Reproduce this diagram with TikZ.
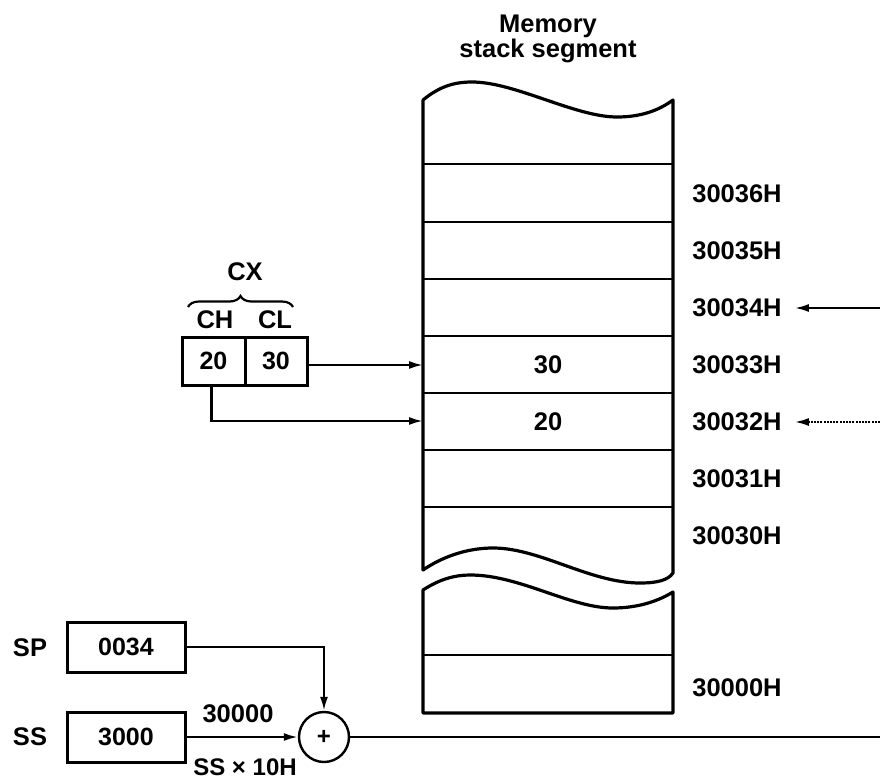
\documentclass[tikz,border=0pt]{standalone}
\usepackage{fontspec}
\setmainfont{Liberation Sans}
\usetikzlibrary{arrows.meta,decorations.pathreplacing}
\begin{document}
\begin{tikzpicture}[x=1pt,y=-1pt,
  txt/.style={font=\fontsize{25.5}{25.5}\selectfont\bfseries, inner sep=0pt},
  box/.style={draw, line width=3pt, inner sep=0pt, font=\fontsize{25}{25}\selectfont\bfseries},
  arr/.style={line width=2.2pt, -{Latex[length=14pt,width=8pt]}},
  wire/.style={line width=2.2pt},
  mem/.style={line width=3.2pt, line join=round, line cap=round},
  rowline/.style={line width=2.4pt}]
\useasboundingbox (0,0) rectangle (880,781);

% title
\node[txt, anchor=base] (title1) at (548,33) {Memory};
\node[txt, anchor=base] (title2) at (548,58) {stack segment};

% memory upper part
\draw[mem] (423,570) -- (423,100)
  .. controls (440,86) and (455,82) .. (472,82)
  .. controls (515,82) and (575,117) .. (617,117)
  .. controls (645,117) and (662,108) .. (673,100)
  -- (673,573)
  .. controls (668,580) and (658,583) .. (640,583)
  .. controls (590,583) and (540,548) .. (493,548)
  .. controls (470,548) and (445,555) .. (423,570);
% memory lower part
\draw[mem] (423,590)
  .. controls (440,579) and (455,575) .. (470,575)
  .. controls (520,575) and (570,608) .. (613,608)
  .. controls (640,608) and (660,600) .. (673,592)
  -- (673,713) -- (423,713) -- cycle;

% row lines
\foreach \y in {164,222,279,336,393,450,507,655}
  \draw[rowline] (423,\y) -- (673,\y);

% addresses
\node[txt] (a36) at (737,194) {30036H};
\node[txt] (a35) at (737,251) {30035H};
\node[txt] (a34) at (737,308) {30034H};
\node[txt] (a33) at (737,365) {30033H};
\node[txt] (a32) at (737,422) {30032H};
\node[txt] (a31) at (737,479) {30031H};
\node[txt] (a30) at (737,536) {30030H};
\node[txt] (a00) at (737,688) {30000H};

% contents
\node[txt] (v33) at (548,365) {30};
\node[txt] (v32) at (548,422) {20};

% memory entry points
\coordinate (m33) at (423,365);
\coordinate (m32) at (423,421);

% right-hand incoming arrows
\coordinate (in34) at (880,308);
\coordinate (in32) at (880,422);
\draw[arr] (in34) -- ([xshift=13pt]a34.east);
\draw[arr, dash pattern=on 2pt off 1.2pt] (in32) -- ([xshift=13pt]a32.east);

% CX register
\node[box, minimum width=63pt, minimum height=48pt] (ch) at (213.5,361) {20};
\node[box, minimum width=62pt, minimum height=48pt] (cl) at (276,361) {30};
\node[txt] (chl) at (215,320) {CH};
\node[txt] (cll) at (275,320) {CL};
\draw[line width=2.2pt, decorate, decoration={brace, amplitude=11pt}] (188,307) -- (293,307);
\node[txt] (cx) at (245,272) {CX};

\draw[arr] (cl.east |- m33) -- (m33);
\draw[arr] ([xshift=-2pt]ch.south) |- (m32);

% SP / SS
\node[box, minimum width=118pt, minimum height=50pt] (sp) at (126,647) {0034};
\node[box, minimum width=118pt, minimum height=50pt] (ss) at (126,737) {3000};
\node[txt] (spl) at (30,648) {SP};
\node[txt] (ssl) at (30,737) {SS};

\node[draw, circle, line width=2.4pt, minimum size=50pt, inner sep=0pt,
      font=\fontsize{24}{24}\selectfont\bfseries] (add) at (324,737) {+};

\draw[arr] (sp.east) -| (add.north);
\draw[arr] (ss.east) -- (add.west);
\node[txt] (lab1) at (238,714) {30000};
\node[txt, font=\fontsize{24}{24}\selectfont\bfseries] (lab2) at (245,767) {SS × 10H};

\coordinate (out) at (880,737);
\draw[wire] (add.east) -- (out);
\end{tikzpicture}
\end{document}
